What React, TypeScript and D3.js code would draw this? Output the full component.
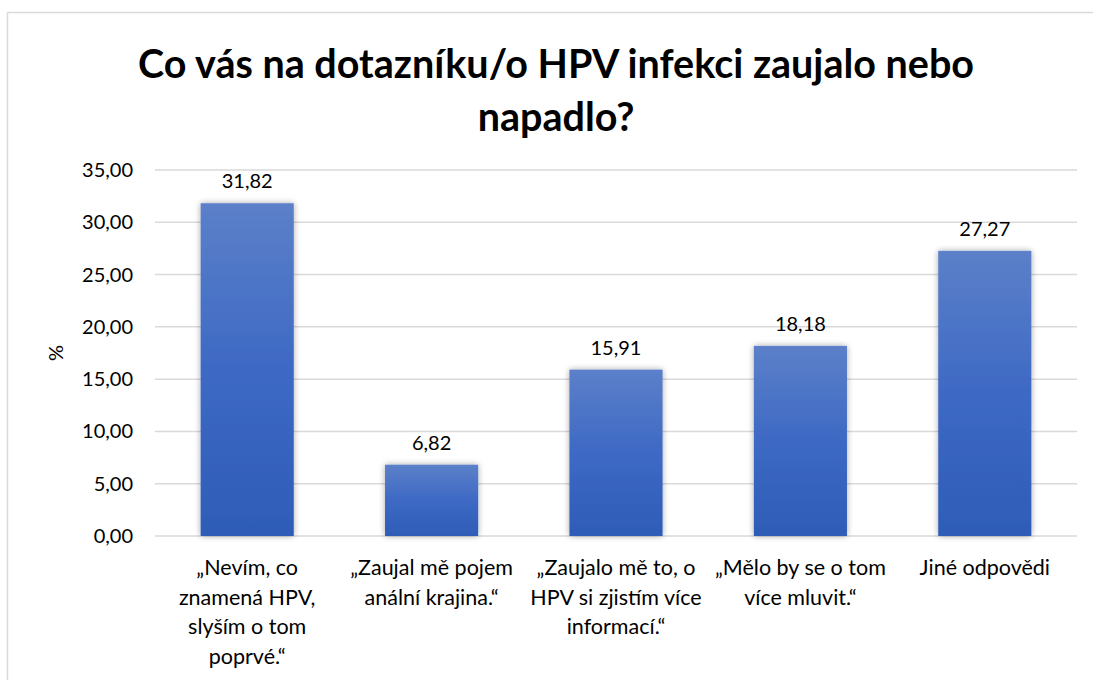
import React from "react";
import * as d3 from "d3";

const categories: string[][] = [
  ["„Nevím, co", "znamená HPV,", "slyším o tom", "poprvé.“"],
  ["„Zaujal mě pojem", "anální krajina.“"],
  ["„Zaujalo mě to, o", "HPV si zjistím více", "informací.“"],
  ["„Mělo by se o tom", "více mluvit.“"],
  ["Jiné odpovědi"],
];
const values: number[] = [31.82, 6.82, 15.91, 18.18, 27.27];
const yTicks: number[] = [0, 5, 10, 15, 20, 25, 30, 35];
const titleLines: string[] = ["Co vás na dotazníku/o HPV infekci zaujalo nebo", "napadlo?"];
const yLabel = "%";

const W = 1093;
const H = 680;
const plot = { left: 155, right: 1077, top: 170, bottom: 536 };
const FONT = "Lato, 'Open Sans', sans-serif";
const fmt = (v: number) => v.toFixed(2).replace(".", ",");

export default function App() {
  const x = d3
    .scaleBand<number>()
    .domain(values.map((_, i) => i))
    .range([plot.left, plot.right])
    .paddingInner(0.495)
    .paddingOuter(0.2475);
  const y = d3.scaleLinear().domain([0, 35]).range([plot.bottom, plot.top]);

  return (
    <svg
      width={W}
      height={H}
      style={{ position: "fixed", left: 0, top: 0, background: "#fff" }}
      fontFamily={FONT}
    >
      <defs>
        <linearGradient id="barGrad" x1="0" y1="0" x2="0" y2="1">
          <stop offset="0%" stopColor="#5c80c9" />
          <stop offset="50%" stopColor="#3d69c4" />
          <stop offset="100%" stopColor="#2e5cb7" />
        </linearGradient>
        <filter id="shadow" x="-20%" y="-10%" width="140%" height="120%">
          <feGaussianBlur in="SourceAlpha" stdDeviation="3" />
          <feOffset dx="0" dy="0" result="b" />
          <feComponentTransfer>
            <feFuncA type="linear" slope="0.35" />
          </feComponentTransfer>
          <feMerge>
            <feMergeNode />
            <feMergeNode in="SourceGraphic" />
          </feMerge>
        </filter>
      </defs>
      <rect x={0} y={0} width={W} height={H} fill="#fff" />
      {/* chart border */}
      <line x1={7.5} y1={12.5} x2={W} y2={12.5} stroke="#d9d9d9" strokeWidth={1.5} />
      <line x1={7.5} y1={12.5} x2={7.5} y2={H} stroke="#d9d9d9" strokeWidth={1.5} />

      {/* title */}
      {titleLines.map((t, i) => (
        <text
          key={i}
          x={556}
          y={78 + i * 53}
          textAnchor="middle"
          fontSize={39.5}
          fontWeight={700}
          fill="#000"
        >
          {t}
        </text>
      ))}

      {/* gridlines */}
      {yTicks.map((t) => (
        <line
          key={t}
          x1={plot.left}
          x2={plot.right}
          y1={y(t)}
          y2={y(t)}
          stroke="#d9d9d9"
          strokeWidth={1.5}
        />
      ))}

      {/* y tick labels */}
      {yTicks.map((t) => (
        <text key={t} x={133} y={y(t)} dy="0.35em" textAnchor="end" fontSize={20} fill="#000">
          {fmt(t)}
        </text>
      ))}

      {/* y axis label */}
      <text
        transform={`translate(63, ${353}) rotate(-90)`}
        textAnchor="middle"
        fontSize={20}
        fill="#000"
      >
        {yLabel}
      </text>

      {/* bars */}
      {values.map((v, i) => (
        <rect
          key={i}
          x={x(i)}
          y={y(v)}
          width={x.bandwidth()}
          height={y(0) - y(v)}
          fill="url(#barGrad)"
          filter="url(#shadow)"
        />
      ))}

      {/* data labels */}
      {values.map((v, i) => (
        <text
          key={i}
          x={(x(i) as number) + x.bandwidth() / 2}
          y={y(v) - 15}
          textAnchor="middle"
          fontSize={20}
          fill="#000"
        >
          {fmt(v)}
        </text>
      ))}

      {/* category labels */}
      {categories.map((lines, i) => (
        <text
          key={i}
          x={(x(i) as number) + x.bandwidth() / 2}
          textAnchor="middle"
          fontSize={21.5}
          fill="#000"
        >
          {lines.map((l, j) => (
            <tspan key={j} x={(x(i) as number) + x.bandwidth() / 2} y={575 + j * 29.5}>
              {l}
            </tspan>
          ))}
        </text>
      ))}
    </svg>
  );
}
